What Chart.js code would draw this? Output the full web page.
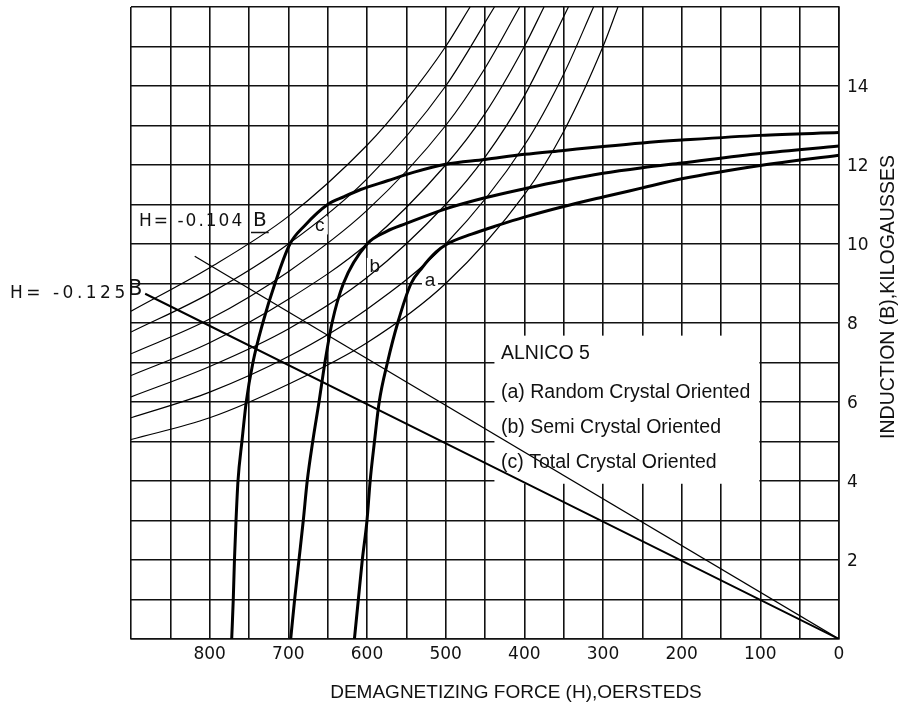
<!DOCTYPE html>
<html>
<head>
<meta charset="utf-8">
<script src="https://cdn.jsdelivr.net/npm/chart.js@4.4.1/dist/chart.umd.min.js"></script>
<style>
  html, body { margin: 0; padding: 0; background: #fff; }
  canvas { display: block; }
</style>
</head>
<body>
<canvas id="alnico" width="902" height="708"></canvas>
<script>
// demagnetization curves, H in oersteds, B in kilogausses
const curveA_H = [616, 611, 606, 600, 596, 590.5, 584.5, 574, 561, 544, 530, 512, 498, 467, 434, 400, 350, 300, 250, 200, 100, 0];
const curveA_B = [0, 1, 2, 3, 4, 5, 6, 7, 8, 9, 9.4, 9.8, 10.0, 10.25, 10.47, 10.68, 10.95, 11.19, 11.42, 11.65, 11.99, 12.25];

const curveB_H = [697, 692, 686.5, 681, 676, 669, 661, 653.5, 644.5, 630, 600, 575, 550, 500, 450, 400, 350, 300, 250, 200, 100, 0];
const curveB_B = [0, 1, 2, 3, 4, 5, 6, 7, 8, 9, 10, 10.32, 10.52, 10.89, 11.17, 11.4, 11.61, 11.79, 11.93, 12.05, 12.29, 12.48];

const curveC_H = [772, 770, 768.5, 766.5, 764, 759, 753.5, 745, 732.5, 717, 698, 679, 650, 629, 608, 574, 540, 500, 450, 400, 350, 300, 250, 200, 100, 0];
const curveC_B = [0, 1, 2, 3, 4, 5, 6, 7, 8, 9, 10, 10.47, 11.0, 11.2, 11.38, 11.6, 11.82, 12.02, 12.14, 12.27, 12.37, 12.47, 12.56, 12.63, 12.75, 12.82];

// thin energy product curves
const bh1_H = [900, 800, 700, 600, 500, 400, 350, 300, 281];
const bh1_B = [5.05, 5.6, 6.45, 7.5, 9.0, 11.25, 12.85, 15.0, 16.0];
const bh2_H = [900, 800, 700, 600, 500, 400, 350, 312];
const bh2_B = [5.6, 6.25, 7.15, 8.35, 10.0, 12.5, 14.3, 16.0];
const bh3_H = [900, 800, 700, 600, 500, 450, 400, 344];
const bh3_B = [6.13, 6.9, 7.85, 9.15, 11.0, 12.2, 13.75, 16.0];
const bh4_H = [900, 800, 700, 600, 500, 450, 400, 375];
const bh4_B = [6.67, 7.5, 8.6, 10.0, 12.0, 13.3, 15.0, 16.0];
const bh5_H = [900, 800, 700, 600, 500, 450, 406];
const bh5_B = [7.22, 8.1, 9.3, 10.85, 13.0, 14.45, 16.0];
const bh6_H = [900, 800, 700, 600, 500, 438];
const bh6_B = [7.77, 8.75, 10.0, 11.65, 14.0, 16.0];
const bh7_H = [900, 800, 700, 600, 550, 500, 469];
const bh7_B = [8.3, 9.4, 10.7, 12.5, 13.65, 15.0, 16.0];

// load lines through the origin
const load125_H = [882, 0];
const load125_B = [8.74, 0];
const load104_H = [819, 0];
const load104_B = [9.69, 0];

const legendLines = ['ALNICO 5', '(a) Random Crystal Oriented', '(b) Semi Crystal Oriented', '(c) Total Crystal Oriented'];

function pts(hs, bs) { return hs.map((h, i) => ({ x: h, y: bs[i] })); }

function curve(hs, bs, w) {
    return {
        data: pts(hs, bs),
        showLine: true,
        borderColor: '#000',
        borderWidth: w,
        pointRadius: 0,
        fill: false,
        cubicInterpolationMode: 'monotone'
    };
}

const FONT = '"Liberation Sans", Arial, sans-serif';
const HAND = '"DejaVu Sans", sans-serif';
const INK = '#111';

const overlay = {
    id: 'overlay',
    beforeDatasetsDraw(chart) {
        const { ctx, scales: { x, y } } = chart;
        ctx.save();
        ctx.fillStyle = '#fff';
        // legend box
        const x1 = x.getPixelForValue(438), x2 = x.getPixelForValue(100) - 1;
        const y1 = y.getPixelForValue(7.68), y2 = y.getPixelForValue(3.93);
        ctx.fillRect(x1, y1, x2 - x1, y2 - y1);
        // backgrounds behind curve letters
        [[520, 9.08], [590, 9.42], [660, 10.47]].forEach(([h, b]) => {
            const px = x.getPixelForValue(h), py = y.getPixelForValue(b);
            ctx.fillRect(px - 8, py - 9, 16, 18);
        });
        ctx.restore();
    },
    afterDatasetsDraw(chart) {
        const { ctx, scales: { x, y } } = chart;
        ctx.save();
        ctx.fillStyle = INK;
        ctx.textBaseline = 'middle';
        ctx.textAlign = 'center';
        ctx.font = '19px ' + FONT;
        ctx.fillText('a', x.getPixelForValue(520), y.getPixelForValue(9.08));
        ctx.fillText('b', x.getPixelForValue(590), y.getPixelForValue(9.42));
        ctx.fillText('c', x.getPixelForValue(660), y.getPixelForValue(10.47));

        // legend text
        ctx.textAlign = 'left';
        ctx.font = '19.5px ' + FONT;
        const lx = 501;
        [354, 393, 428, 463].forEach((ty, i) => ctx.fillText(legendLines[i], lx, ty));

        // load line labels
        ctx.font = '17px ' + HAND;
        ctx.letterSpacing = '2px';
        ctx.fillText('H= -0.104', 139, 222);
        ctx.letterSpacing = '0px';
        ctx.font = '20px ' + HAND;
        ctx.fillText('B', 253, 221);
        const bw = ctx.measureText('B').width;
        ctx.lineWidth = 1.5;
        ctx.strokeStyle = INK;
        ctx.beginPath();
        ctx.moveTo(251, 232.5);
        ctx.lineTo(255 + bw, 232.5);
        ctx.stroke();

        ctx.font = '17px ' + HAND;
        ctx.letterSpacing = '3.5px';
        ctx.fillText('H= -0.125', 10, 294);
        ctx.letterSpacing = '0px';
        ctx.font = '21px ' + HAND;
        ctx.fillText('B', 128, 290);

        // axis titles
        ctx.font = '19px ' + FONT;
        ctx.textAlign = 'center';
        ctx.fillText('DEMAGNETIZING FORCE (H),OERSTEDS', 516, 693);
        ctx.translate(889, 297);
        ctx.rotate(-Math.PI / 2);
        ctx.font = '19.5px ' + FONT;
        ctx.fillText('INDUCTION (B),KILOGAUSSES', 0, 0);
        ctx.restore();
    }
};

new Chart(document.getElementById('alnico'), {
    type: 'scatter',
    data: {
        datasets: [
            curve(curveA_H, curveA_B, 3),
            curve(curveB_H, curveB_B, 3),
            curve(curveC_H, curveC_B, 3),
            curve(bh1_H, bh1_B, 1.2),
            curve(bh2_H, bh2_B, 1.2),
            curve(bh3_H, bh3_B, 1.2),
            curve(bh4_H, bh4_B, 1.2),
            curve(bh5_H, bh5_B, 1.2),
            curve(bh6_H, bh6_B, 1.2),
            curve(bh7_H, bh7_B, 1.2),
            curve(load125_H, load125_B, 2),
            curve(load104_H, load104_B, 1.3)
        ]
    },
    options: {
        responsive: false,
        animation: false,
        layout: { padding: { left: 131, top: 7, right: 0, bottom: 0 } },
        plugins: { legend: { display: false }, tooltip: { enabled: false } },
        scales: {
            x: {
                type: 'linear',
                reverse: true,
                min: 0,
                max: 900,
                ticks: {
                    stepSize: 50,
                    autoSkip: false,
                    maxRotation: 0,
                    padding: 5,
                    color: INK,
                    font: { family: HAND, size: 17 },
                    callback: v => (v % 100 === 0 && v < 900) ? String(v) : ''
                },
                grid: { color: INK, lineWidth: 1.6, drawTicks: false },
                border: { color: INK, width: 1.6 },
                afterFit: s => { s.height = 69; s.paddingLeft = 0; s.paddingRight = 0; }
            },
            y: {
                position: 'right',
                min: 0,
                max: 16,
                ticks: {
                    stepSize: 1,
                    autoSkip: false,
                    padding: 8,
                    labelOffset: 2,
                    color: INK,
                    font: { family: HAND, size: 17 },
                    callback: v => (v % 2 === 0 && v > 0 && v < 16) ? String(v) : ''
                },
                grid: { color: INK, lineWidth: 1.6, drawTicks: false },
                border: { color: INK, width: 1.6 },
                afterFit: s => { s.width = 63; s.paddingTop = 0; s.paddingBottom = 0; }
            }
        }
    },
    plugins: [overlay]
});
</script>
</body>
</html>
